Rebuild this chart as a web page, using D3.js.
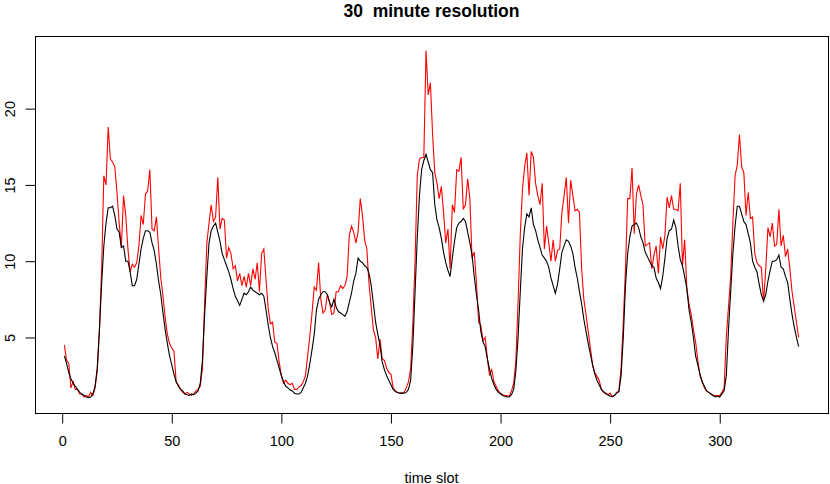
<!DOCTYPE html>
<html>
<head>
<meta charset="utf-8">
<title>30 minute resolution</title>
<script src="https://d3js.org/d3.v7.min.js"></script>
<style>
  body { margin: 0; background: #fff; }
  svg { font-family: "Liberation Sans", Arial, Helvetica, sans-serif; }
  .axis text { fill: #000; }
  .axis line { stroke: #000; }
</style>
</head>
<body>
<div id="chart"></div>
<script>
// Data: one value per 30 minute time slot (7 days x 48 slots)
const blackDay1 = [3.8,3.3,2.7,2.3,2.0,1.8,1.6,1.4,1.3,1.2,1.1,1.05,1.1,1.3,1.8,3.0,5.5,8.5,11.0,12.5,13.5,13.5,13.6,13.0,12.1,11.9,10.9,11.0,10.0,10.0,9.3,8.4,8.4,8.8,9.8,10.8,11.5,12.0,12.0,11.9,11.2,10.7,9.8,8.7,7.8,6.6,5.5,4.6];
const blackDay2 = [3.8,3.2,2.6,2.1,1.8,1.6,1.5,1.3,1.25,1.2,1.3,1.25,1.35,1.5,2.0,3.5,6.5,9.0,11.2,12.0,12.3,12.5,11.9,11.3,10.5,10.1,9.7,9.3,8.8,8.2,7.7,7.4,7.1,7.5,7.9,7.8,8.0,8.3,8.1,8.0,7.9,7.8,7.9,7.7,6.8,5.8,5.0,4.4];
const blackDay3 = [4.0,3.5,3.0,2.5,2.1,1.8,1.7,1.55,1.5,1.35,1.3,1.3,1.4,1.7,2.0,2.5,3.3,4.2,5.2,6.8,7.5,7.8,8.0,8.0,7.8,7.3,7.0,7.5,7.0,6.7,6.6,6.5,6.4,6.7,7.3,7.9,8.7,9.2,10.2,10.0,9.9,9.7,9.6,9.2,8.4,7.2,6.0,5.2];
const blackDay4 = [4.5,3.4,2.9,2.5,2.2,1.9,1.6,1.45,1.4,1.35,1.35,1.35,1.4,1.6,2.2,4.5,8.0,11.5,14.3,16.0,16.6,17.0,16.5,16.0,15.8,13.7,12.7,12.2,11.5,10.6,9.9,9.4,9.0,10.2,11.3,12.2,12.5,12.6,12.8,12.6,11.9,11.2,10.4,9.0,7.8,6.8,5.4,4.7];
const blackDay5 = [4.4,3.6,2.9,2.3,1.9,1.6,1.4,1.3,1.2,1.15,1.1,1.1,1.25,1.6,2.8,5.0,8.0,10.8,12.2,13.1,12.9,13.5,12.4,12.0,11.4,10.9,10.4,10.2,10.0,9.6,8.9,8.4,7.9,8.5,9.5,10.6,11.0,11.4,11.3,11.0,10.5,9.6,8.9,8.0,7.2,6.2,5.4,4.6];
const blackDay6 = [3.9,3.2,2.6,2.2,1.9,1.6,1.45,1.35,1.25,1.15,1.15,1.2,1.35,1.45,2.5,5.0,8.4,10.5,11.6,12.3,12.4,12.5,12.2,11.6,11.2,10.6,10.3,10.0,9.7,9.6,8.9,8.6,8.2,9.0,10.2,11.5,12.0,12.1,12.7,12.2,11.0,10.1,9.7,9.0,8.2,6.8,6.0,5.0];
const blackDay7 = [3.8,3.2,2.6,2.1,1.8,1.5,1.4,1.3,1.2,1.1,1.15,1.1,1.3,1.5,2.5,5.5,8.0,10.5,12.3,13.6,13.6,13.1,12.6,12.4,11.8,11.2,10.0,9.6,9.3,8.5,7.8,7.4,7.8,8.7,9.4,10.0,10.0,10.1,10.4,9.6,9.5,9.0,8.6,7.5,6.5,5.7,5.0,4.4];

const redDay1 = [4.5,3.5,3.3,1.7,2.1,1.6,1.6,1.3,1.3,1.1,1.2,1.1,1.4,1.2,1.7,2.8,5.5,9.5,15.6,15.0,18.8,16.7,16.5,16.2,14.5,12.5,10.9,14.3,13.0,10.8,9.3,9.8,9.6,9.9,11.0,13.0,12.4,14.4,14.6,16.0,12.1,12.0,12.9,10.8,8.9,7.7,6.3,5.2];
const redDay2 = [4.6,4.3,4.1,2.1,1.9,1.6,1.4,1.3,1.4,1.3,1.2,1.3,1.5,1.6,1.8,3.0,7.3,11.2,12.5,13.7,12.6,12.9,15.5,12.1,12.8,12.7,10.2,10.9,10.5,9.5,9.7,8.7,9.2,8.4,9.0,8.3,9.2,8.4,9.5,8.8,9.9,8.0,10.5,10.8,8.8,6.9,5.9,6.0];
const redDay3 = [4.7,4.6,3.4,2.5,2.0,2.2,2.0,1.9,2.0,1.6,1.6,1.75,1.85,2.1,2.5,3.8,5.1,6.6,8.3,8.1,9.9,7.5,6.6,6.8,7.8,7.3,6.5,6.6,8.0,8.0,8.4,8.2,8.4,9.0,11.7,12.3,11.9,11.2,11.9,14.1,13.0,11.4,10.8,8.5,7.0,5.5,5.0,3.6];
const redDay4 = [4.9,3.6,3.5,3.0,2.7,2.6,1.7,1.5,1.4,1.35,1.35,1.4,1.7,2.1,3.0,6.0,10.0,15.6,16.7,16.8,16.8,23.8,20.9,21.7,18.3,15.8,15.1,14.1,14.9,13.2,11.2,12.1,9.5,13.7,13.2,16.0,15.9,16.8,13.4,13.7,15.4,14.1,10.2,10.6,8.6,6.0,5.8,4.8];
const redDay5 = [5.0,3.6,2.5,2.9,2.1,1.8,1.5,1.35,1.25,1.2,1.2,1.15,1.5,2.0,3.5,7.3,11.7,14.7,16.2,17.1,14.3,17.2,16.8,15.1,14.3,13.7,15.1,10.8,12.3,11.2,10.0,11.4,10.0,10.7,10.8,13.2,14.3,15.5,12.5,15.3,14.3,13.3,13.4,13.2,9.5,7.5,6.5,5.4];
const redDay6 = [4.3,3.2,2.7,2.45,2.2,1.6,1.4,1.3,1.25,1.35,1.1,1.2,1.4,1.5,3.0,6.0,9.5,14.1,14.1,16.1,11.8,14.4,15.0,14.3,13.7,11.0,11.1,11.2,9.5,10.4,11.0,9.2,11.6,10.8,11.7,14.2,13.5,14.3,13.4,13.4,13.3,15.1,9.7,11.4,8.2,7.2,6.5,5.5];
const redDay7 = [4.7,3.5,2.5,2.1,1.7,1.5,1.4,1.3,1.2,1.2,1.2,1.2,1.4,1.7,5.0,7.0,9.0,12.5,15.6,16.3,18.3,16.2,15.8,13.0,14.5,12.8,12.9,10.5,9.9,9.7,9.6,7.3,9.5,12.2,11.6,12.5,11.0,11.1,13.4,11.0,11.7,10.3,10.8,9.5,8.0,7.0,6.0,5.0];

const blackValues = [].concat(blackDay1, blackDay2, blackDay3, blackDay4, blackDay5, blackDay6, blackDay7);
const redValues = [].concat(redDay1, redDay2, redDay3, redDay4, redDay5, redDay6, redDay7);

const xTicks = [0, 50, 100, 150, 200, 250, 300];
const yTicks = [5, 10, 15, 20];
const titleText = "30  minute resolution";
const xLabel = "time slot";

// Plot geometry
const W = 830, H = 484;
const plotLeft = 35, plotRight = 828, plotTop = 36, plotBottom = 413;
const fontSize = "14.5px";

// R style 4% padding on the ranges
const n = blackValues.length;
const xPad = (n - 1) * 0.04;
const x = d3.scaleLinear()
  .domain([1 - xPad, n + xPad])
  .range([plotLeft, plotRight]);

const yLo = 0.05, yHi = 24.76;
const y = d3.scaleLinear()
  .domain([yLo, yHi])
  .range([plotBottom, plotTop]);

const svg = d3.select("#chart").append("svg")
  .attr("width", W)
  .attr("height", H);

// Title (keeps the double space)
svg.append("text")
  .attr("x", (plotLeft + plotRight) / 2)
  .attr("y", 16.5)
  .attr("text-anchor", "middle")
  .style("font-size", "17.5px")
  .style("font-weight", "bold")
  .style("white-space", "pre")
  .text(titleText);

// Lines
const line = d3.line()
  .x(function (d, i) { return x(i + 1); })
  .y(function (d) { return y(d); });

svg.append("path")
  .datum(redValues)
  .attr("fill", "none")
  .attr("stroke", "#ff0000")
  .attr("stroke-width", 1.1)
  .attr("d", line);

svg.append("path")
  .datum(blackValues)
  .attr("fill", "none")
  .attr("stroke", "#000")
  .attr("stroke-width", 1.1)
  .attr("d", line);

// Box round the plot
svg.append("rect")
  .attr("x", plotLeft + 0.5)
  .attr("y", plotTop + 0.5)
  .attr("width", plotRight - plotLeft)
  .attr("height", plotBottom - plotTop)
  .attr("fill", "none")
  .attr("stroke", "#000")
  .attr("stroke-width", 1);

// X axis
const gx = svg.append("g")
  .attr("class", "axis")
  .attr("transform", "translate(0," + (plotBottom + 0.5) + ")")
  .call(d3.axisBottom(x).tickValues(xTicks).tickSize(10).tickPadding(12).tickFormat(d3.format("d")));
gx.select(".domain").remove();
gx.selectAll("text").style("font-size", fontSize);

// Y axis with rotated labels like R
const gy = svg.append("g")
  .attr("class", "axis")
  .attr("transform", "translate(" + (plotLeft + 0.5) + ",0)")
  .call(d3.axisLeft(y).tickValues(yTicks).tickSize(10).tickFormat(d3.format("d")));
gy.select(".domain").remove();
gy.selectAll("text")
  .attr("x", null)
  .attr("dy", null)
  .attr("text-anchor", "middle")
  .attr("transform", "translate(-21,0) rotate(-90)")
  .style("font-size", fontSize);

// X label
svg.append("text")
  .attr("x", (plotLeft + plotRight) / 2)
  .attr("y", 482.5)
  .attr("text-anchor", "middle")
  .style("font-size", fontSize)
  .text(xLabel);
</script>
</body>
</html>
